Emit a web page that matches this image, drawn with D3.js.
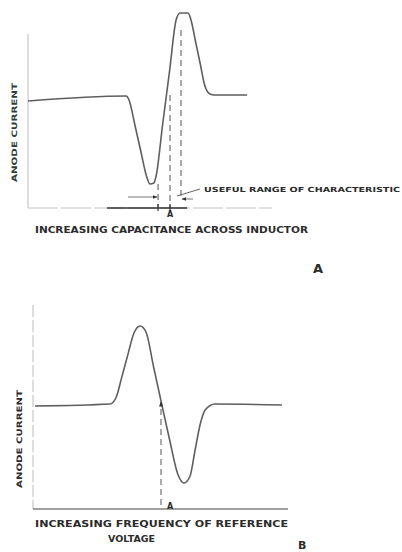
<!DOCTYPE html>
<html><head><meta charset="utf-8">
<script src="https://cdn.jsdelivr.net/npm/d3@7"></script>
<style>body{margin:0;background:#fff}svg{display:block}text{font-family:"DejaVu Sans",sans-serif;font-weight:bold;fill:#2b2b2b}</style>
</head><body><svg id="c" width="402" height="552"></svg>
<script>
// Curve A: anode current vs capacitance across inductor (arbitrary units 0..100)
const capA = [0, 40.2, 41.4, 43.9, 46.3, 48.8, 50, 51.6, 52.5, 55.2, 58, 60.7, 62.3, 65.6, 66.8, 68.7, 70.6, 72.5, 74.6, 76.2, 89.8];
const curA = [53.5, 56, 54, 41, 28, 15, 12, 12.5, 16, 42, 68.3, 94, 97.5, 97.5, 94, 83, 72, 61, 57, 56.5, 56.5];
// Curve B: anode current vs frequency of reference voltage
const freqB = [0.8, 30.2, 32.5, 34.9, 37.2, 39.6, 42, 44.3, 47.3, 50.2, 53.5, 56.9, 59.2, 61.6, 63.5, 65.5, 67.5, 71.4, 97.6];
const curB = [51.5, 52.5, 55.5, 66.3, 77.2, 88, 91.5, 88.5, 71, 54, 35, 17, 13, 16.5, 29, 42, 49.5, 52.5, 52];
// marked positions
const dashA = [{x: 53.3, y0: 12, y1: 0}, {x: 58.2, y0: 56.5, y1: 0}, {x: 62.7, y0: 89, y1: 4}];
const rangeA = [53.3, 62.7]; const pointA = 58.2; const solidA = [32.4, 65.2];
const pointB = 50.2, pointBy = 54;
const labelsA = {y: 'ANODE CURRENT', x: 'INCREASING CAPACITANCE ACROSS INDUCTOR', note: 'USEFUL RANGE OF CHARACTERISTIC', panel: 'A'};
const labelsB = {y: 'ANODE CURRENT', x1: 'INCREASING FREQUENCY OF REFERENCE', x2: 'VOLTAGE', panel: 'B'};

const svg = d3.select('#c');
const defs = svg.append('defs');
defs.append('marker').attr('id', 'ah').attr('viewBox', '0 0 10 10').attr('refX', 9).attr('refY', 5)
  .attr('markerWidth', 5).attr('markerHeight', 5).attr('orient', 'auto-start-reverse')
  .append('path').attr('d', 'M0,1L10,5L0,9Z').attr('fill', '#333');
const ink = '#5e5e5e';

// ---- panel A
const xA = d3.scaleLinear().domain([0, 100]).range([28, 272]);
const yA = d3.scaleLinear().domain([0, 100]).range([208, 8]);
const gA = svg.append('g');
gA.append('line').attr('x1', xA(0)).attr('x2', xA(0)).attr('y1', yA(87)).attr('y2', yA(0)).attr('stroke', '#bbb').attr('stroke-width', 1);
gA.append('line').attr('x1', xA(0)).attr('x2', xA(100)).attr('y1', yA(0)).attr('y2', yA(0)).attr('stroke', '#c4c4c4').attr('stroke-width', 1).attr('stroke-dasharray', '30 3');
gA.append('line').attr('x1', xA(solidA[0])).attr('x2', xA(solidA[1])).attr('y1', yA(0)).attr('y2', yA(0)).attr('stroke', '#333').attr('stroke-width', 1.3);
const lineA = d3.line().x((d, i) => xA(capA[i])).y(d => yA(d)).curve(d3.curveMonotoneX);
gA.append('path').attr('d', lineA(curA)).attr('fill', 'none').attr('stroke', ink).attr('stroke-width', 1.6);
gA.selectAll('.dash').data(dashA).join('line').attr('x1', d => xA(d.x)).attr('x2', d => xA(d.x))
  .attr('y1', d => yA(d.y0)).attr('y2', d => yA(d.y1)).attr('stroke', '#555').attr('stroke-width', 1).attr('stroke-dasharray', '6 4');
gA.selectAll('.tk').data(rangeA.slice(0, 1).concat([pointA])).join('line').attr('x1', d => xA(d)).attr('x2', d => xA(d))
  .attr('y1', yA(0) - 4).attr('y2', yA(0) + 3).attr('stroke', '#333').attr('stroke-width', 1.2);
// range arrows
gA.append('line').attr('x1', xA(rangeA[0]) - 30).attr('x2', xA(rangeA[0]) - 1).attr('y1', 197).attr('y2', 197)
  .attr('stroke', '#777').attr('stroke-width', 1).attr('marker-end', 'url(#ah)');
gA.append('line').attr('x1', xA(rangeA[1]) + 12).attr('x2', xA(rangeA[1]) + 1).attr('y1', 199).attr('y2', 199)
  .attr('stroke', '#777').attr('stroke-width', 1).attr('marker-end', 'url(#ah)');
gA.append('line').attr('x1', xA(rangeA[1]) - 4).attr('x2', 200).attr('y1', 196).attr('y2', 189).attr('stroke', '#666').attr('stroke-width', 1);
gA.append('text').attr('x', 204).attr('y', 192).attr('font-size', 7).attr('textLength', 196).attr('lengthAdjust', 'spacingAndGlyphs').text(labelsA.note);
gA.append('text').attr('x', xA(pointA) - 3).attr('y', 217).attr('font-size', 8).text('A');
gA.append('text').attr('x', 35).attr('y', 233).attr('font-size', 8).attr('textLength', 273).attr('lengthAdjust', 'spacingAndGlyphs').text(labelsA.x);
gA.append('text').attr('transform', 'translate(17,182) rotate(-90)').attr('font-size', 7.5).attr('textLength', 99)
  .attr('lengthAdjust', 'spacingAndGlyphs').style('fill', '#2d3f39').text(labelsA.y);
gA.append('text').attr('x', 313).attr('y', 273).attr('font-size', 13).text(labelsA.panel);

// ---- panel B
const xB = d3.scaleLinear().domain([0, 100]).range([33, 288]);
const yB = d3.scaleLinear().domain([0, 100]).range([509, 309]);
const gB = svg.append('g');
gB.append('line').attr('x1', xB(0)).attr('x2', xB(0)).attr('y1', yB(102)).attr('y2', yB(0)).attr('stroke', '#bbb').attr('stroke-width', 1).attr('stroke-dasharray', '12 3');
gB.append('line').attr('x1', xB(0)).attr('x2', xB(100)).attr('y1', yB(0)).attr('y2', yB(0)).attr('stroke', '#444').attr('stroke-width', 1.2);
const lineB = d3.line().x((d, i) => xB(freqB[i])).y(d => yB(d)).curve(d3.curveMonotoneX);
gB.append('path').attr('d', lineB(curB)).attr('fill', 'none').attr('stroke', ink).attr('stroke-width', 1.6);
gB.append('line').attr('x1', xB(pointB)).attr('x2', xB(pointB)).attr('y1', yB(2)).attr('y2', yB(pointBy) + 1)
  .attr('stroke', '#555').attr('stroke-width', 1).attr('stroke-dasharray', '6 4').attr('marker-end', 'url(#ah)');
gB.append('text').attr('x', xB(pointB) + 6).attr('y', 509).attr('font-size', 8).text('A');
gB.append('text').attr('x', 35).attr('y', 527).attr('font-size', 8).attr('textLength', 253).attr('lengthAdjust', 'spacingAndGlyphs').text(labelsB.x1);
gB.append('text').attr('x', 108).attr('y', 542).attr('font-size', 8).attr('textLength', 47).attr('lengthAdjust', 'spacingAndGlyphs').text(labelsB.x2);
gB.append('text').attr('transform', 'translate(22,488) rotate(-90)').attr('font-size', 7.5).attr('textLength', 98)
  .attr('lengthAdjust', 'spacingAndGlyphs').text(labelsB.y);
gB.append('text').attr('x', 298).attr('y', 549).attr('font-size', 11).text(labelsB.panel);
</script></body></html>
